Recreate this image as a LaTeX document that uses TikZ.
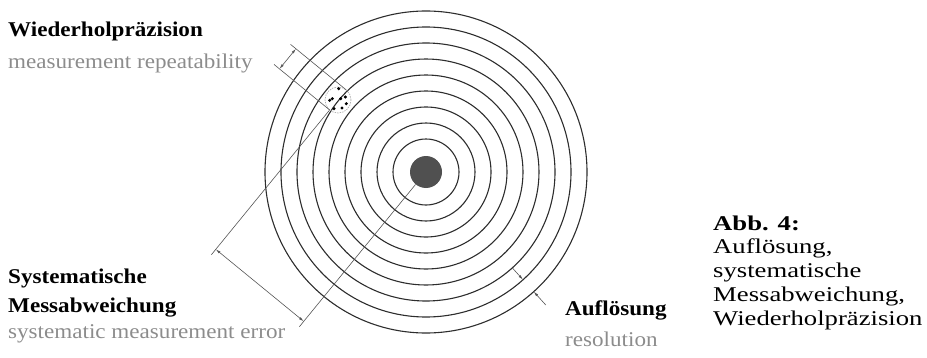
\documentclass[tikz,border=0pt]{standalone}
\usepackage{fontspec}
\setmainfont{Liberation Serif}
\newfontfamily\lblfont[FakeStretch=1.1]{Liberation Serif}
\newfontfamily\capfont[FakeStretch=1.27]{Liberation Serif}
\usetikzlibrary{arrows.meta, calc}
\definecolor{ringgray}{RGB}{45, 45, 45}
\definecolor{dimgray}{RGB}{85, 85, 85}
\definecolor{engray}{RGB}{140, 140, 140}
\definecolor{dotgray}{RGB}{80, 80, 80}

\begin{document}
\begin{tikzpicture}[x=1pt, y=1pt,
      ring/.style={draw=ringgray, line width=1.1pt},
      extline/.style={draw=dimgray, line width=0.6pt},
      dimarr/.style={{Latex[length=5pt,width=2.6pt]}-{Latex[length=5pt,width=2.6pt]},
        draw=dimgray, line width=0.6pt},
      resarr/.style={-{Latex[length=5pt,width=2.6pt]}, draw=dimgray, line width=0.6pt},
      delabel/.style={anchor=base west, inner sep=0pt,
        font=\lblfont\fontsize{21}{25}\selectfont\bfseries},
      enlabel/.style={anchor=base west, inner sep=0pt, text=engray,
        font=\lblfont\fontsize{21}{25}\selectfont},
      caplabel/.style={anchor=base west, inner sep=0pt, align=left,
        font=\capfont\fontsize{21}{23.7}\selectfont}
  ]
    \useasboundingbox (0,0) rectangle (927,357);

    % target rings
    \foreach \r in {33,49,...,161}
      \draw[ring] (426,185) circle[radius=\r];
    \node[circle, fill=dotgray, inner sep=0pt, minimum size=32pt] (bull) at (426,185) {};

    % scattered hits
    \node[circle, draw=gray!60, dash pattern=on 1.5pt off 1pt, line width=0.7pt,
      inner sep=0pt, minimum size=26pt] (hits) at (338,257) {};
    \foreach \dx/\dy in {0.7/11.3, -5.7/1.3, 2.7/1.3, 7.3/3, -8.3/-0.3, -4/-8.7, 4/-8, 8.3/-3.7}
      \fill[black] ($(hits.center)+(\dx,\dy)$) circle[radius=1.7];

    % repeatability
    \coordinate (rp1) at ($(hits.center)+(50.7:13)$);
    \coordinate (rp2) at ($(hits.center)+(230.7:13)$);
    \draw[extline] (rp1) -- ++(140.7:72);
    \draw[extline] (rp2) -- ++(140.7:72);
    \draw[dimarr] ($(rp1)+(140.7:65)$) -- ($(rp2)+(140.7:65)$);

    % systematic error
    \draw[extline] (bull.230.7) -- ($(bull.center)+(230.7:200)$);
    \draw[extline] (hits.230.7) -- ($(hits.center)+(230.7:200)$);
    \draw[dimarr] ($(bull.center)+(230.7:193)$) -- ($(hits.center)+(230.7:193)$);

    % resolution
    \coordinate (rs1) at ($(426,185)+(-48:145)$);
    \coordinate (rs2) at ($(426,185)+(-48:161)$);
    \draw[resarr] ($(426,185)+(-48:129)$) -- (rs1);
    \draw[resarr] ($(426,185)+(-48:179)$) -- (rs2);

    % labels
    \node[delabel] (wpde) at (8,320.3) {Wiederholpräzision};
    \node[enlabel] (wpen) at (8,288.7) {measurement repeatability};
    \node[delabel] (smde1) at (8,73.7) {Systematische};
    \node[delabel] (smde2) at (8,45) {Messabweichung};
    \node[enlabel] (smen) at (8,19) {systematic measurement error};
    \node[delabel] (rsde) at (565,42) {Auflösung};
    \node[enlabel] (rsen) at (565,11) {resolution};

    \node[caplabel] (cap) at (713,32) {\textbf{Abb. 4:}\\Auflösung,\\systematische\\Messabweichung,\\Wiederholpräzision};
  \end{tikzpicture}
\end{document}
